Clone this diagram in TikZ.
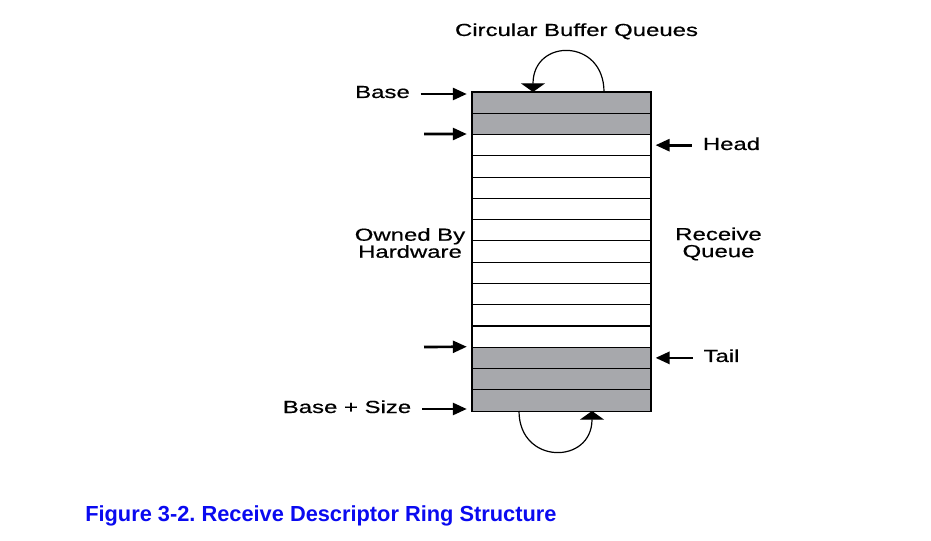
\documentclass[tikz,border=0pt]{standalone}
\usepackage{fontspec}
\setmainfont{Liberation Sans}
\newfontfamily\lblfont{Liberation Sans}[FakeStretch=1.37,FakeBold=0.5]
\usepackage{xcolor}
\usetikzlibrary{arrows.meta,positioning,calc}
\definecolor{slotgray}{RGB}{167,168,172}
\definecolor{capblue}{RGB}{10,10,240}
\frenchspacing

\begin{document}
\begin{tikzpicture}[x=0.75pt,y=-0.75pt,
  slot/.style={rectangle,draw,line width=0.8pt,inner sep=0pt,minimum width=134.25pt,minimum height=15.95pt},
  used/.style={slot,fill=slotgray},
  lbl/.style={font=\lblfont\fontsize{13.1pt}{12.75pt}\selectfont,align=center,inner sep=0pt},
  pt/.style={-{Triangle[width=9pt,length=10.5pt]},line width=2pt},
  loopar/.style={-{Triangle[width=18pt,length=6.5pt]},line width=0.9pt}]
  \useasboundingbox (0,0) rectangle (931,541);
  % descriptor slots
  \foreach \i in {3,...,12}
    \node[slot] (r\i) at (561.5,{92+21.27*(\i-0.5)}) {};
  \foreach \i in {1,2,13,14,15}
    \node[used] (r\i) at (561.5,{92+21.27*(\i-0.5)}) {};
  \draw[line width=1.1pt] (r1.north west) rectangle (r15.south east);
  % labels
  \node[lbl,anchor=base] (ttl) at (576.5,36){Circular Buffer Queues};
  \node[lbl,anchor=base] (bs) at (382.5,98){Base};
  \node[lbl,anchor=base] (bsz) at (347,413){Base + Size};
  \node[lbl,anchor=base] (hd) at (731.5,150){Head};
  \node[lbl,anchor=base] (tl) at (721.5,362){Tail};
  \node[lbl] (own) at (410,243){Owned By\\Hardware};
  \node[lbl] (rq) at (718.5,244){Receive\\Queue};
  \node[font=\bfseries\fontsize{16.35pt}{18pt}\selectfont,text=capblue,anchor=base west,inner sep=0pt] (cap) at (85,521){Figure 3-2. Receive Descriptor Ring Structure};
  % pointers
  \coordinate (p2) at (424,134);
  \coordinate (p3) at (424,347);
  \draw[pt,shorten <=8pt,shorten >=3.5pt] (bs.east |- 0,94) -- (r1.west |- 0,94);
  \draw[pt,shorten >=3.5pt] (p2) -- (r3.north west);
  \draw[pt,shorten >=3.5pt] (p3) -- (r13.north west);
  \draw[pt,shorten <=8pt,shorten >=3.5pt] (bsz.east |- 0,409) -- (r15.west |- 0,409);
  \draw[pt,shorten <=8pt,shorten >=3pt] (hd.west |- r3.east) -- (r3.east);
  \draw[pt,shorten <=8pt,shorten >=3pt] (tl.west |- r13.east) -- (r13.east);
  % wrap-around loops
  \coordinate (ta) at (604,92);
  \coordinate (tb) at (533,92);
  \coordinate (ba) at (519,411);
  \coordinate (bb) at (592,411);
  \draw[loopar] (ta) .. controls (604,38) and (533,38) .. (tb);
  \draw[loopar] (ba) .. controls (519,465) and (592,465) .. (bb);
\end{tikzpicture}
\end{document}
